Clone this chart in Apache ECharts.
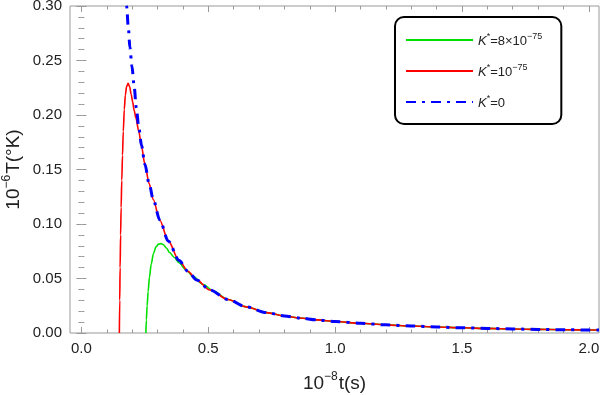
<!DOCTYPE html>
<html>
<head>
<meta charset="utf-8">
<script src="https://cdn.jsdelivr.net/npm/echarts@6/dist/echarts.min.js"></script>
<style>
  html, body { margin: 0; padding: 0; background: #fff; }
  #chart { width: 602px; height: 395px; }
</style>
</head>
<body>
<div id="chart"></div>
<script>
'use strict'

// values: [t (1e-8 s), T (1e-6 K)]
const greenPoints = [
  [0.254, 0], [0.256, 0.012], [0.259, 0.025], [0.263, 0.038], [0.268, 0.051],
  [0.275, 0.063], [0.284, 0.073], [0.294, 0.079], [0.304, 0.0815], [0.313, 0.082],
  [0.323, 0.081], [0.335, 0.078], [0.348, 0.0738], [0.365, 0.0695], [0.385, 0.0645],
  [0.410, 0.0585], [0.440, 0.0520], [0.480, 0.0445], [0.520, 0.0385], [0.578, 0.0307],
  [0.650, 0.0240], [0.730, 0.0187], [0.800, 0.0157], [0.860, 0.0138], [0.930, 0.0120],
  [1.000, 0.0106], [1.100, 0.0089], [1.200, 0.0075], [1.300, 0.0064], [1.400, 0.0055],
  [1.500, 0.0048], [1.600, 0.0042], [1.700, 0.0037], [1.800, 0.0033], [1.900, 0.0030],
  [2.000, 0.0028], [2.040, 0.0027]
]
const redPoints = [
  [0.1495, 0], [0.1510, 0.030], [0.1525, 0.060], [0.1545, 0.090], [0.1565, 0.115],
  [0.1590, 0.140], [0.1620, 0.163], [0.1650, 0.185], [0.1690, 0.205], [0.1730, 0.218],
  [0.1780, 0.226], [0.1840, 0.229], [0.1900, 0.226], [0.1960, 0.219], [0.2020, 0.212],
  [0.2080, 0.204], [0.2150, 0.197], [0.2260, 0.185], [0.2370, 0.171], [0.250, 0.155],
  [0.267, 0.137], [0.283, 0.1225], [0.309, 0.1035], [0.342, 0.0845], [0.385, 0.0665],
  [0.420, 0.0565], [0.454, 0.0487], [0.506, 0.0395], [0.578, 0.0307], [0.650, 0.0240],
  [0.730, 0.0187], [0.800, 0.0157], [0.860, 0.0138], [0.930, 0.0120], [1.000, 0.0106],
  [1.100, 0.0089], [1.200, 0.0075], [1.300, 0.0064], [1.400, 0.0055], [1.500, 0.0048],
  [1.600, 0.0042], [1.700, 0.0037], [1.800, 0.0033], [1.900, 0.0030], [2.000, 0.0028],
  [2.040, 0.0027]
]
const bluePoints = [
  [0.174, 0.315], [0.178, 0.300], [0.185, 0.280], [0.191, 0.262], [0.199, 0.245],
  [0.208, 0.226], [0.216, 0.207], [0.226, 0.189], [0.237, 0.172], [0.250, 0.155],
  [0.267, 0.137], [0.283, 0.1225], [0.309, 0.1035], [0.342, 0.0845], [0.385, 0.0665],
  [0.420, 0.0565], [0.454, 0.0487], [0.506, 0.0395], [0.578, 0.0307], [0.650, 0.0240],
  [0.730, 0.0187], [0.800, 0.0157], [0.860, 0.0138], [0.930, 0.0120], [1.000, 0.0106],
  [1.100, 0.0089], [1.200, 0.0075], [1.300, 0.0064], [1.400, 0.0055], [1.500, 0.0048],
  [1.600, 0.0042], [1.700, 0.0037], [1.800, 0.0033], [1.900, 0.0030], [2.000, 0.0028],
  [2.040, 0.0027]
]
const xMajorTicks = [0, 0.5, 1.0, 1.5, 2.0]
const xMinorTicks = [0.1, 0.2, 0.3, 0.4, 0.6, 0.7, 0.8, 0.9, 1.1, 1.2, 1.3, 1.4, 1.6, 1.7, 1.8, 1.9]
const seriesNames = ['K*=8×10^-75', 'K*=10^-75', 'K*=0']
const legendLabels = ['{k|K}{s|*}{t|=8×10}{s|−75}', '{k|K}{s|*}{t|=10}{s|−75}', '{k|K}{s|*}{t|=0}']

const FONT = 'Liberation Sans, Arial, Helvetica, sans-serif'
const X_MIN = -0.045, X_MAX = 2.04
const TICK = '#999'

const chart = echarts.init(document.getElementById('chart'), null, { renderer: 'canvas' })

function xAxisFor(position, ticks, len, withLabels) {
  return {
    type: 'value', position: position, min: X_MIN, max: X_MAX,
    axisLine: { show: false },
    splitLine: { show: false },
    axisTick: { show: true, inside: true, length: len, customValues: ticks, lineStyle: { color: TICK, width: 1 } },
    axisLabel: withLabels ? {
      show: true, customValues: ticks, margin: 8, fontSize: 15, fontFamily: FONT, color: '#222',
      formatter: v => v.toFixed(1)
    } : { show: false }
  }
}

function yAxisFor(position, withLabels) {
  return {
    type: 'value', position: position, min: 0, max: 0.30, interval: 0.05,
    axisLine: { show: false },
    splitLine: { show: false },
    axisTick: { show: true, inside: true, length: 5, lineStyle: { color: TICK, width: 1 } },
    minorTick: { show: true, splitNumber: 5, length: 3, lineStyle: { color: TICK, width: 1 } },
    axisLabel: withLabels ? {
      show: true, margin: 8, fontSize: 15, fontFamily: FONT, color: '#222',
      formatter: v => v.toFixed(2)
    } : { show: false }
  }
}

const nameStyle = {
  rich: {
    n: { fontSize: 19, fontFamily: FONT, color: '#222', lineHeight: 22, verticalAlign: 'bottom' },
    s: { fontSize: 12, fontFamily: FONT, color: '#222', lineHeight: 22, verticalAlign: 'top', padding: [0, 1, 0, 0] }
  }
}

const xBottom = xAxisFor('bottom', xMajorTicks, 6, true)
xBottom.name = '{n|10}{s|−8}{n|t(s)}'
xBottom.nameLocation = 'middle'
xBottom.nameGap = 38
xBottom.nameMoveOverlap = false
xBottom.nameTextStyle = nameStyle

const yLeft = yAxisFor('left', true)
yLeft.name = '{n|10}{s|−6}{n|T(°K)}'
yLeft.nameLocation = 'middle'
yLeft.nameGap = 47
yLeft.nameRotate = 90
yLeft.nameMoveOverlap = false
yLeft.nameTextStyle = nameStyle

const lineCommon = { type: 'line', showSymbol: false, symbol: 'none', smooth: 0.3, smoothMonotone: 'x', xAxisIndex: 0, yAxisIndex: 0, clip: true }

const option = {
  animation: false,
  backgroundColor: '#fff',
  grid: {
    left: 70, top: 6, right: 3, bottom: 62, outerBoundsMode: 'none', containLabel: false,
    show: true, borderColor: '#999', borderWidth: 1, backgroundColor: 'transparent'
  },
  xAxis: [
    xBottom,
    xAxisFor('bottom', xMinorTicks, 3.5, false),
    xAxisFor('top', xMajorTicks, 6, false),
    xAxisFor('top', xMinorTicks, 3.5, false)
  ],
  yAxis: [yLeft, yAxisFor('right', false)],
  legend: {
    orient: 'vertical', left: 395, top: 17,
    itemWidth: 67, itemHeight: 14, itemGap: 15, itemTextGap: 7,
    padding: [15, 19, 14, 10],
    borderColor: '#000', borderWidth: 2, borderRadius: 9, backgroundColor: '#fff',
    itemStyle: { opacity: 0, borderWidth: 0 },
    formatter: name => legendLabels[seriesNames.indexOf(name)],
    textStyle: {
      rich: {
        k: { fontSize: 13, fontFamily: FONT, fontStyle: 'italic', color: '#222', lineHeight: 16, verticalAlign: 'bottom' },
        t: { fontSize: 13, fontFamily: FONT, color: '#222', lineHeight: 16, verticalAlign: 'bottom' },
        s: { fontSize: 9, fontFamily: FONT, color: '#222', lineHeight: 16, verticalAlign: 'top' }
      }
    },
    data: seriesNames
  },
  series: [
    Object.assign({}, lineCommon, { name: seriesNames[0], data: greenPoints, color: '#00e000', lineStyle: { color: '#00e000', width: 1.6 } }),
    Object.assign({}, lineCommon, { name: seriesNames[1], data: redPoints, color: '#ff0000', lineStyle: { color: '#ff0000', width: 1.6 } }),
    Object.assign({}, lineCommon, { name: seriesNames[2], data: bluePoints, color: '#0000ff', lineStyle: { color: '#0000ff', width: 3, type: [10, 6, 3, 6], cap: 'butt' } })
  ]
}

chart.setOption(option)
</script>
</body>
</html>
